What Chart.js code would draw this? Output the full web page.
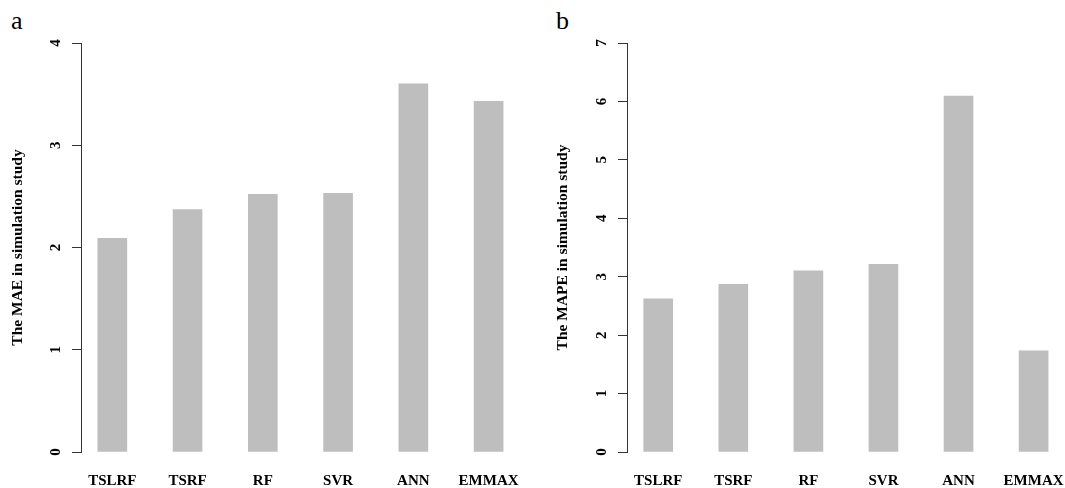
<!DOCTYPE html>
<html>
<head>
<meta charset="utf-8">
<script src="https://cdn.jsdelivr.net/npm/chart.js@4.4.0/dist/chart.umd.min.js"></script>
<style>
    html, body { margin: 0; padding: 0; background: #fff; }
    body { width: 1065px; height: 488px; position: relative; overflow: hidden; }
    .panel { position: absolute; top: 0; }
    .letter {
        position: absolute;
        top: 8px;
        font-family: 'Liberation Serif', 'Times New Roman', serif;
        font-size: 26px;
        line-height: 26px;
        color: #000;
    }
</style>
</head>
<body>
<div class="letter" style="left: 11px;">a</div>
<div class="letter" style="left: 556px;">b</div>
<div class="panel" style="left: 0px;"><canvas id="maeChart" width="540" height="488"></canvas></div>
<div class="panel" style="left: 545px;"><canvas id="mapeChart" width="540" height="488"></canvas></div>

<script>
// Values
const categories = ['TSLRF', 'TSRF', 'RF', 'SVR', 'ANN', 'EMMAX'];
const maeValues = [2.09, 2.37, 2.52, 2.53, 3.60, 3.43];
const mapeValues = [2.62, 2.87, 3.10, 3.21, 6.09, 1.73];
const maeTicks = [0, 1, 2, 3, 4];
const mapeTicks = [0, 1, 2, 3, 4, 5, 6, 7];

const serif = "'Liberation Serif', 'Times New Roman', serif";

function makeBarChart(canvasId, values, yTicks, yTitle, axisWidth) {
    const ctx = document.getElementById(canvasId).getContext('2d');
    return new Chart(ctx, {
        type: 'bar',
        data: {
            datasets: [{
                data: values.map((v, i) => ({ x: i + 1, y: v })),
                backgroundColor: '#bebebe',
                borderWidth: 0,
                barThickness: 29
            }]
        },
        options: {
            responsive: false,
            animation: false,
            layout: { padding: { top: 43, right: 20, bottom: 0, left: 0 } },
            plugins: {
                legend: { display: false },
                tooltip: { enabled: false }
            },
            scales: {
                x: {
                    // linear index axis so the bars sit where R's barplot put them
                    type: 'linear',
                    offset: false,
                    bounds: 'data',
                    min: 0.584,
                    max: 6.406,
                    afterBuildTicks: function(scale) {
                        scale.ticks = categories.map((c, i) => ({ value: i + 1 }));
                    },
                    afterFit: function(scale) { scale.height = 36; },
                    grid: { display: false, drawTicks: false, offset: false },
                    border: { display: false },
                    ticks: {
                        padding: 20,
                        maxRotation: 0,
                        autoSkip: false,
                        color: '#000',
                        font: { family: serif, size: 15, weight: 'bold' },
                        callback: function(value) { return categories[value - 1]; }
                    }
                },
                y: {
                    min: yTicks[0],
                    max: yTicks[yTicks.length - 1],
                    afterBuildTicks: function(scale) {
                        scale.ticks = yTicks.map(v => ({ value: v }));
                    },
                    afterFit: function(scale) { scale.width = axisWidth; },
                    grid: {
                        drawOnChartArea: false,
                        drawTicks: true,
                        tickLength: 9,
                        tickColor: '#333',
                        tickWidth: 1
                    },
                    border: { display: true, color: '#333', width: 1 },
                    ticks: {
                        minRotation: 90,
                        maxRotation: 90,
                        crossAlign: 'center',
                        padding: 12,
                        color: '#000',
                        font: { family: serif, size: 15, weight: 'bold' }
                    },
                    title: {
                        display: true,
                        text: yTitle,
                        color: '#000',
                        padding: { top: 9, bottom: 0 },
                        font: { family: serif, size: 15.5, weight: 'bold' }
                    }
                }
            }
        }
    });
}

makeBarChart('maeChart', maeValues, maeTicks, 'The MAE in simulation study', 81);
makeBarChart('mapeChart', mapeValues, mapeTicks, 'The MAPE in simulation study', 82);
</script>
</body>
</html>
